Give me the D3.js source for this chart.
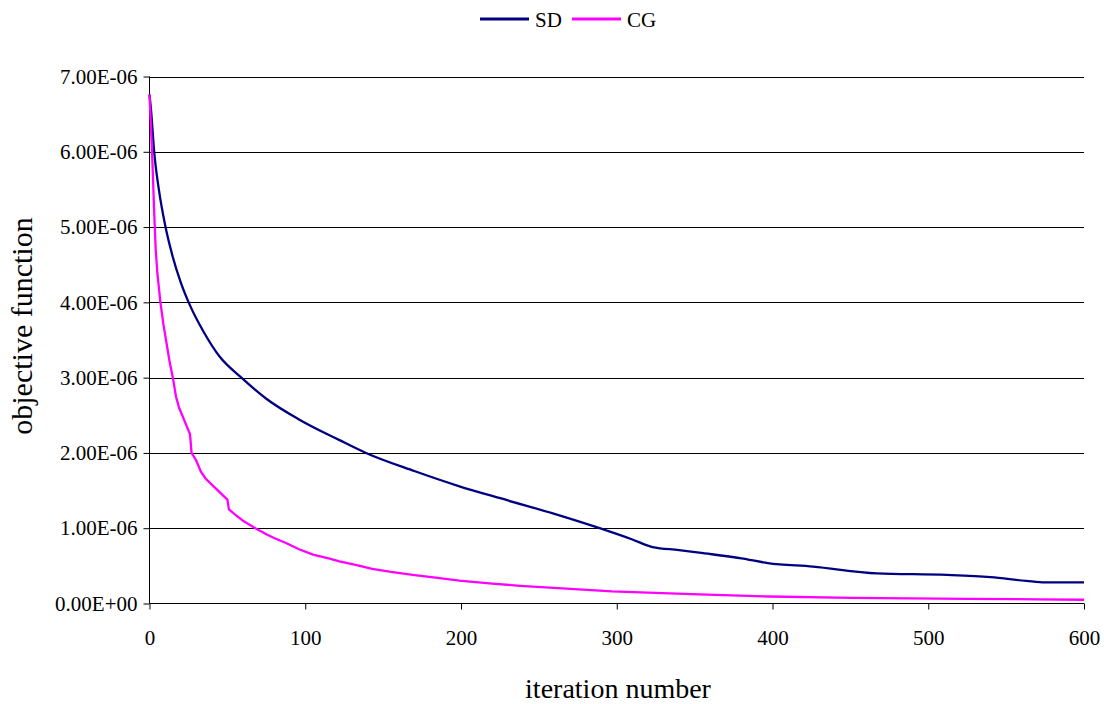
<!DOCTYPE html>
<html><head><meta charset="utf-8">
<script src="https://cdn.jsdelivr.net/npm/d3@7"></script>
<style>
body{margin:0;background:#fff}svg{display:block}
svg text{font-family:"Liberation Serif","Times New Roman","DejaVu Serif",serif !important;fill:#000}
</style>
</head><body>
<svg id="chart" width="1104" height="704"></svg>
<script>
const seriesNames = ["SD", "CG"];
const seriesColors = ["#000080", "#ff00ff"];
const sdIter = [0,1,3,6,10,15,20,26,35,45,59,75,96,122,139,170,199,230,260,289,310,323,340,353,380,397,426,467,512,540,563,575,600];
const sdValue = [6.76,6.55,6.0,5.5,5.03,4.6,4.27,3.96,3.6,3.28,3.0,2.72,2.445,2.17,2.0,1.76,1.557,1.37,1.19,1.0,0.85,0.75,0.71,0.675,0.6,0.537,0.49,0.40,0.38,0.35,0.30,0.28,0.28];
const cgIter = [0,1,2,3,4,5,7,9,11,13,15,17,19,21,24,26,27,30,33,36,40,44,48,50,51,55,60,68,75,80,88,96,105,115,122,133,143,155,169,185,199,220,238,265,297,320,353,398,451,525,570,600];
const cgValue = [6.76,6.3,5.8,5.2,4.7,4.4,4.0,3.7,3.45,3.2,3.0,2.75,2.6,2.5,2.35,2.25,2.0,1.9,1.75,1.66,1.58,1.5,1.42,1.38,1.25,1.18,1.1,1.0,0.92,0.87,0.8,0.72,0.65,0.6,0.56,0.51,0.46,0.42,0.38,0.34,0.305,0.265,0.235,0.2,0.16,0.145,0.12,0.093,0.076,0.062,0.056,0.05];
const xTicks = [0,100,200,300,400,500,600];
const yTicks = [0,1,2,3,4,5,6,7];
const xTitle = "iteration number";
const yTitle = "objective function";

const svg = d3.select("#chart");
const L = 149.5, R = 1084, T = 76.5, B = 603.5;
const x = d3.scaleLinear().domain([0,600]).range([L, R]);
const y = d3.scaleLinear().domain([0,7]).range([B, T]);

// gridlines
svg.append("g").selectAll("line").data(yTicks.filter(d=>d>0)).join("line")
  .attr("x1", L).attr("x2", R).attr("y1", d=>Math.round(y(d))+0.5).attr("y2", d=>Math.round(y(d))+0.5)
  .attr("stroke", "#000").attr("stroke-width", 1);

// y axis
const yAxis = d3.axisLeft(y).tickValues(yTicks).tickSize(6).tickPadding(6)
  .tickFormat(d => d === 0 ? "0.00E+00" : d.toFixed(2) + "E-06");
const gy = svg.append("g").attr("transform", `translate(${L},0)`).call(yAxis);
gy.attr("font-family", null);
gy.select(".domain").attr("d", `M0,${T}V${B}`).attr("stroke","#000");
gy.selectAll(".tick line").attr("stroke","#000");
gy.selectAll(".tick text").style("font-size", "21px");

// x axis
const xAxis = d3.axisBottom(x).tickValues(xTicks).tickSize(6).tickPadding(21);
const gx = svg.append("g").attr("transform", `translate(0,${B})`).call(xAxis);
gx.attr("font-family", null);
gx.select(".domain").attr("d", `M${L},0H${R}`).attr("stroke","#000");
gx.selectAll(".tick line").attr("stroke","#000");
gx.selectAll(".tick text").style("font-size", "21px");

// lines
const line = d3.line().x(d=>x(d[0])).y(d=>y(d[1]));
const sdData = sdIter.map((d,i)=>[d, sdValue[i]]);
const cgData = cgIter.map((d,i)=>[d, cgValue[i]]);
svg.append("path").datum(sdData).attr("d", line.curve(d3.curveMonotoneX))
  .attr("fill","none").attr("stroke", seriesColors[0]).attr("stroke-width", 2.3);
svg.append("path").datum(cgData).attr("d", line.curve(d3.curveLinear))
  .attr("fill","none").attr("stroke", seriesColors[1]).attr("stroke-width", 2.3);

// titles
svg.append("text").attr("x", 618).attr("y", 698).attr("text-anchor","middle")
  .style("font-size", "28px").text(xTitle);
svg.append("text").attr("transform", `translate(32,326) rotate(-90)`).attr("text-anchor","middle")
  .style("font-size", "30px").text(yTitle);

// legend
const legX = [480, 572];
seriesNames.forEach((n,i)=>{
  svg.append("line").attr("x1", legX[i]).attr("x2", legX[i]+49).attr("y1", 19).attr("y2", 19)
    .attr("stroke", seriesColors[i]).attr("stroke-width", 3);
  svg.append("text").attr("x", legX[i]+55).attr("y", 27).style("font-size", "21px").text(n);
});
</script>
</body></html>
